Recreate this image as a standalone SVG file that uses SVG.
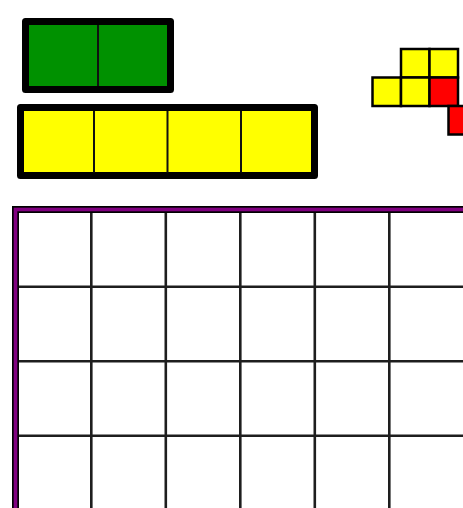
<svg xmlns="http://www.w3.org/2000/svg" width="463" height="508" viewBox="0 0 463 508">
<style>
.frame{stroke:#000;stroke-width:7;stroke-linejoin:round}
.div{stroke:#111;stroke-width:2}
.cell{stroke:#000;stroke-width:2.5}
.grid{stroke:#1e1e1e;stroke-width:2.6}
</style>
<rect width="463" height="508" fill="#fff"/>
<g id="green-bar">
<rect class="frame" x="25.5" y="21.5" width="145" height="68" fill="#009100"/>
<line class="div" x1="98" y1="25" x2="98" y2="86"/>
</g>
<g id="yellow-bar">
<rect class="frame" x="20.5" y="107.5" width="294" height="68" stroke-width="6.5" fill="#ffff00"/>
<line class="div" x1="94" y1="111" x2="94" y2="172.5"/>
<line class="div" x1="167.5" y1="111" x2="167.5" y2="172.5"/>
<line class="div" x1="241" y1="111" x2="241" y2="172.5"/>
</g>
<g id="small-piece">
<rect class="cell" x="401" y="49" width="28.5" height="28.5" fill="#ffff00"/>
<rect class="cell" x="429.5" y="49" width="28.5" height="28.5" fill="#ffff00"/>
<rect class="cell" x="372.5" y="77.5" width="28.5" height="28.5" fill="#ffff00"/>
<rect class="cell" x="401" y="77.5" width="28.5" height="28.5" fill="#ffff00"/>
<rect class="cell" x="429.5" y="77.5" width="28.5" height="28.5" fill="#ff0000"/>
<rect class="cell" x="448.5" y="106" width="28.5" height="28.5" fill="#ff0000"/>
</g>
<g id="board">
<rect x="15.5" y="209.5" width="520" height="340" fill="#fff"/>
<g class="grid">
<line x1="91.3" y1="212" x2="91.3" y2="508"/>
<line x1="165.8" y1="212" x2="165.8" y2="508"/>
<line x1="240.3" y1="212" x2="240.3" y2="508"/>
<line x1="314.8" y1="212" x2="314.8" y2="508"/>
<line x1="389.3" y1="212" x2="389.3" y2="508"/>
<line x1="18" y1="286.8" x2="463" y2="286.8"/>
<line x1="18" y1="361.2" x2="463" y2="361.2"/>
<line x1="18" y1="435.7" x2="463" y2="435.7"/>
</g>
<rect x="15.5" y="209.5" width="520" height="340" fill="none" stroke="#000" stroke-width="7"/>
<rect x="15.5" y="209.5" width="520" height="340" fill="none" stroke="#800080" stroke-width="3.6"/>
</g>
</svg>
